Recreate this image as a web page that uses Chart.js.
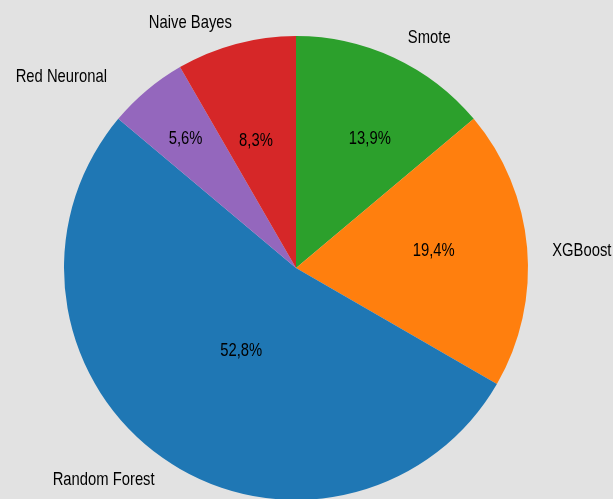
<!DOCTYPE html>
<html>
<head>
<meta charset="utf-8">
<script src="https://cdn.jsdelivr.net/npm/chart.js@4/dist/chart.umd.min.js"></script>
<style>
  html, body { margin: 0; padding: 0; background: #e2e2e2; overflow: hidden; }
  canvas { display: block; }
</style>
</head>
<body>
<canvas id="pie" width="613" height="500"></canvas>
<script>
// Datos (orden horario desde arriba)
const modelos = ["Smote", "XGBoost", "Random Forest", "Red Neuronal", "Naive Bayes"];
const conteos = [5, 7, 19, 2, 3];
const colores = ["#2ca02c", "#ff7f0e", "#1f77b4", "#9467bd", "#d62728"];

// fuente estrecha: Liberation Sans comprimida en horizontal
const FONT = '18.5px "Liberation Sans", Arial, sans-serif';
const ESTRECHO = 0.8;

// Ajustes finos de texto (px) respecto a la posición calculada
const ajusteNombre = [[4, 1], [2, 5], [5, 3], [-25, 4], [2, 1]];
const ajustePct = [[15, -3], [-1, -5], [25, -31], [-21, -22], [-4, 7]];

function fmtPct(v, total) {
  return (v / total * 100).toFixed(1).replace(".", ",") + "%";
}

function textoEstrecho(ctx, txt, x, y, align) {
  ctx.save();
  ctx.translate(x, y);
  ctx.scale(ESTRECHO, 1);
  ctx.textAlign = align;
  ctx.fillText(txt, 0, 0);
  ctx.restore();
}

const etiquetas = {
  id: "etiquetas",
  afterDatasetsDraw(chart) {
    const ctx = chart.ctx;
    const meta = chart.getDatasetMeta(0);
    const total = conteos.reduce((a, b) => a + b, 0);
    ctx.save();
    ctx.font = FONT;
    ctx.fillStyle = "#000";
    ctx.textBaseline = "middle";
    meta.data.forEach((arc, i) => {
      const p = arc.getProps(["x", "y", "startAngle", "endAngle", "outerRadius"], true);
      const mid = (p.startAngle + p.endAngle) / 2;
      const cos = Math.cos(mid), sin = Math.sin(mid);

      // nombre fuera del pastel
      const lx = p.x + p.outerRadius * 1.1 * cos + ajusteNombre[i][0];
      const ly = p.y + p.outerRadius * 1.1 * sin + ajusteNombre[i][1];
      textoEstrecho(ctx, modelos[i], lx, ly, cos >= 0 ? "left" : "right");

      // porcentaje dentro
      const px = p.x + p.outerRadius * 0.6 * cos + ajustePct[i][0];
      const py = p.y + p.outerRadius * 0.6 * sin + ajustePct[i][1];
      textoEstrecho(ctx, fmtPct(conteos[i], total), px, py, "center");
    });
    ctx.restore();
  }
};

new Chart(document.getElementById("pie"), {
  type: "pie",
  data: {
    labels: modelos,
    datasets: [{
      data: conteos,
      backgroundColor: colores,
      borderWidth: 0
    }]
  },
  options: {
    responsive: false,
    animation: false,
    layout: { padding: { left: 64, right: 85, top: 36, bottom: 0 } },
    plugins: {
      legend: { display: false },
      tooltip: { enabled: false }
    }
  },
  plugins: [etiquetas]
});
</script>
</body>
</html>
